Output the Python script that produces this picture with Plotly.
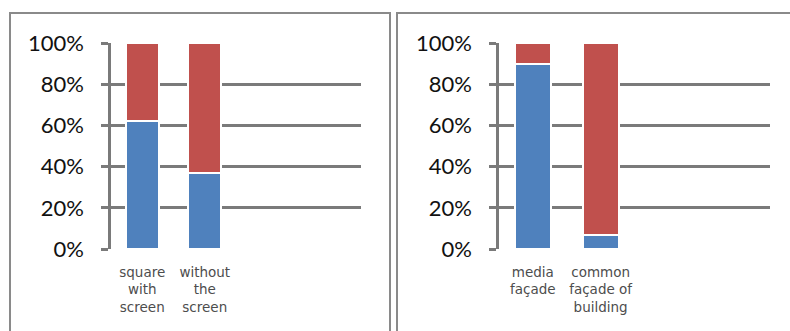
import plotly.graph_objects as go

# ---- data ----
left_categories = ["square<br>with<br>screen", "without<br>the<br>screen"]
left_blue = [62, 37]
left_red = [38, 63]

right_categories = ["media<br>façade", "common<br>façade of<br>building"]
right_blue = [90, 7]
right_red = [10, 93]

y_ticks = [0, 20, 40, 60, 80, 100]
y_tick_labels = ["0%", "20%", "40%", "60%", "80%", "100%"]

BLUE = "#4F81BD"
RED = "#C0504D"
GRID = "#7a7a7a"

W, H = 790, 331

fig = go.Figure()

def add_pair(cats, blue, red, xa, ya):
    fig.add_trace(go.Bar(x=cats, y=blue, marker=dict(color=BLUE, line=dict(color="white", width=2)),
                         xaxis=xa, yaxis=ya, showlegend=False, hoverinfo="skip"))
    fig.add_trace(go.Bar(x=cats, y=red, marker=dict(color=RED, line=dict(color="white", width=2)),
                         xaxis=xa, yaxis=ya, showlegend=False, hoverinfo="skip"))

add_pair(left_categories, left_blue, left_red, "x", "y")
add_pair(right_categories, right_blue, right_red, "x2", "y2")

ydom = [1 - 249 / H, 1 - 43 / H]

def xaxis_cfg(cats, dom):
    return dict(domain=dom, type="category", automargin=False,
                categoryorder="array", categoryarray=cats + [" ", "  "],
                range=[-0.5, 3.5], showgrid=False, zeroline=False, showline=False,
                ticks="", tickfont=dict(family="DejaVu Sans", size=13.5, color="#4d4d4d"),
                ticklabelstandoff=13, fixedrange=True)

def yaxis_cfg(anchor):
    return dict(domain=ydom, anchor=anchor, range=[0, 100], automargin=False,
                tickmode="array", tickvals=y_ticks, ticktext=y_tick_labels,
                showgrid=True, gridcolor=GRID, gridwidth=2.5,
                zeroline=False, showline=True, linecolor=GRID, linewidth=2.5,
                ticks="outside", ticklen=7, tickwidth=2.5, tickcolor=GRID,
                ticklabelstandoff=13,
                tickfont=dict(family="Lato", size=22, color="#111111"), fixedrange=True)

fig.update_layout(
    template="none",
    width=W, height=H,
    margin=dict(l=0, r=0, t=0, b=0, pad=0),
    paper_bgcolor="white", plot_bgcolor="white",
    barmode="stack", bargap=0.47,
    xaxis=xaxis_cfg(left_categories, [111 / W, 361 / W]),
    yaxis=yaxis_cfg("x"),
    xaxis2=xaxis_cfg(right_categories, [499 / W, 770 / W]),
    yaxis2=yaxis_cfg("x2"),
    shapes=[
        dict(type="rect", xref="paper", yref="paper",
             x0=10 / W, x1=390 / W, y0=-0.2, y1=1 - 13 / H,
             line=dict(color="#8a8a8a", width=2), layer="below"),
        dict(type="rect", xref="paper", yref="paper",
             x0=397 / W, x1=1.2, y0=-0.2, y1=1 - 13 / H,
             line=dict(color="#8a8a8a", width=2), layer="below"),
    ],
)

fig.write_html(
    "out.html",
    config={"displayModeBar": False},
    post_script="document.body.style.margin='0';document.body.style.overflow='hidden';",
)
